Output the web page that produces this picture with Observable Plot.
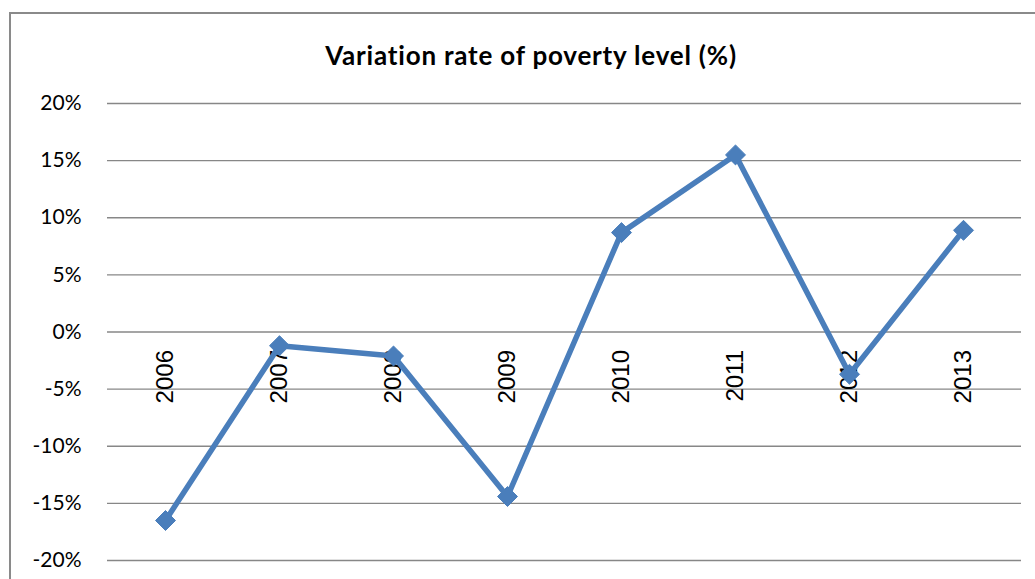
<!DOCTYPE html>
<html>
<head>
<meta charset="utf-8">
<script src="https://cdn.jsdelivr.net/npm/d3@7"></script>
<script src="https://cdn.jsdelivr.net/npm/@observablehq/plot@0.6"></script>
<style>
  html, body { margin: 0; padding: 0; background: #fff; overflow: hidden; }
  #wrap { position: relative; width: 1035px; height: 579px; }
  #frame { position: absolute; left: 9px; top: 12px; width: 1100px; height: 700px;
           border-left: 2px solid #8a8a8a; border-top: 2px solid #8a8a8a; box-sizing: border-box; }
  #title { position: absolute; left: 0; top: 39px; width: 1062px; text-align: center;
           font-family: Lato, "Open Sans", sans-serif; font-weight: bold; font-size: 26px;
           letter-spacing: 0.8px; color: #000; }
  #chart { position: absolute; left: 0; top: 0; }
</style>
</head>
<body>
<div id="wrap">
  <div id="frame"></div>
  <div id="title">Variation rate of poverty level (%)</div>
  <div id="chart"></div>
</div>
<script>
const years = ["2006", "2007", "2008", "2009", "2010", "2011", "2012", "2013"];
const rates = [-0.165, -0.012, -0.021, -0.144, 0.087, 0.155, -0.037, 0.089];
const yTicks = [-0.20, -0.15, -0.10, -0.05, 0, 0.05, 0.10, 0.15, 0.20];

const data = years.map((y, i) => ({year: y, rate: rates[i]}));
const color = "#4A7EBB";

const plot = Plot.plot({
  width: 1035,
  height: 579,
  marginLeft: 107,
  marginRight: 14,
  marginTop: 103,
  marginBottom: 19,
  style: {background: "transparent", overflow: "visible"},
  x: {type: "point", domain: years, padding: 0.5, axis: null},
  y: {domain: [-0.2, 0.2], axis: null},
  marks: [
    Plot.ruleY(yTicks, {stroke: "#878787", strokeWidth: 1.4}),
    Plot.axisY({
      ticks: yTicks,
      tickSize: 0,
      tickPadding: 26,
      tickFormat: d => Math.round(d * 100) + "%",
      fontSize: 21,
      fontFamily: "Lato, 'Open Sans', sans-serif",
      fill: "#000",
      label: null
    }),
    Plot.text(years, {
      x: d => d,
      y: () => 0,
      text: d => d,
      rotate: -90,
      textAnchor: "end",
      dy: 18,
      fontSize: 24,
      fontFamily: "'Liberation Sans', Arial, sans-serif",
      fill: "#000"
    }),
    Plot.line(data, {x: "year", y: "rate", stroke: color, strokeWidth: 5.5, strokeLinejoin: "miter"}),
    Plot.dot(data, {x: "year", y: "rate", symbol: "diamond2", r: 9, fill: color, stroke: color, strokeWidth: 1})
  ]
});
document.getElementById("chart").appendChild(plot);
</script>
</body>
</html>
